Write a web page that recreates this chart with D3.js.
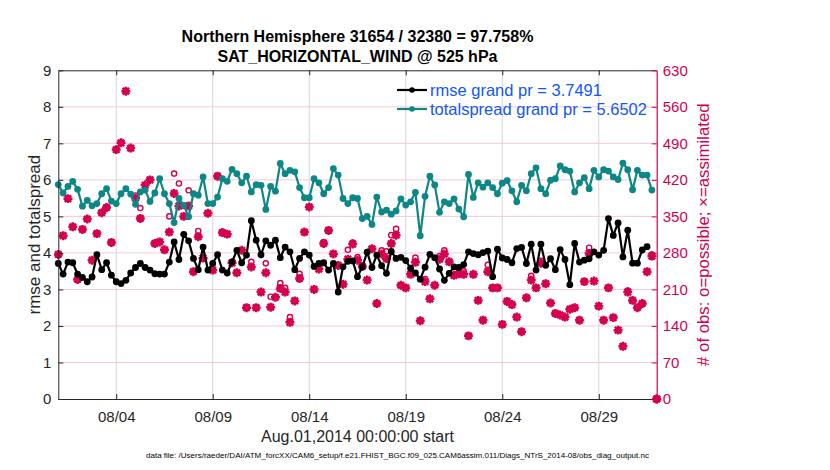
<!DOCTYPE html>
<html>
<head>
<meta charset="utf-8">
<script src="https://cdn.jsdelivr.net/npm/d3@7"></script>
<style>
  body { margin: 0; background: #fff; }
  text { font-family: "Liberation Sans", Arial, Helvetica, sans-serif; }
</style>
</head>
<body>
<div id="chart"></div>
<script>
// bins are 6 hours apart, starting Aug 1 2014 00Z
const startTime = new Date(Date.UTC(2014, 7, 1, 0));
const endTime = new Date(Date.UTC(2014, 8, 1, 0));
const binHours = 6;

const rmse = [
  3.71, 3.42, 3.75, 3.73, 3.42, 3.33, 3.21, 3.34, 3.95, 3.54,
  3.73, 3.39, 3.21, 3.16, 3.25, 3.45, 3.60, 3.71, 3.60, 3.53,
  3.43, 3.42, 3.42, 3.75, 4.30, 3.82, 4.51, 4.33, 3.85, 3.54,
  4.16, 3.53, 3.71, 3.95, 3.53, 3.45, 3.75, 4.07, 3.73, 3.94,
  4.88, 4.35, 3.95, 4.33, 4.21, 4.35, 3.87, 4.16, 4.03, 3.54,
  3.85, 4.03, 3.94, 3.63, 3.71, 3.73, 3.53, 3.71, 2.93, 3.62,
  3.77, 3.78, 3.35, 3.62, 4.02, 3.60, 3.94, 3.65, 3.44, 4.04,
  3.85, 3.88, 3.79, 3.58, 3.45, 3.28, 3.61, 3.96, 3.87, 3.56,
  3.25, 3.44, 3.62, 3.60, 3.68, 4.03, 3.98, 3.95, 4.01, 4.05,
  3.35, 4.10, 3.86, 3.82, 3.73, 4.12, 4.15, 3.71, 4.24, 3.53,
  4.24, 3.66, 3.84, 3.54, 4.09, 3.82, 3.13, 4.26, 3.75, 3.80,
  3.84, 4.03, 3.94, 4.07, 4.94, 4.48, 4.82, 3.89, 4.62, 3.72,
  3.72, 4.08, 4.17
];

const totalspread = [
  5.87, 5.64, 5.82, 5.96, 5.74, 5.28, 5.44, 5.29, 5.35, 5.62,
  5.76, 5.42, 5.35, 5.62, 5.76, 5.61, 5.33, 5.67, 5.72, 5.41,
  5.64, 6.03, 5.62, 5.35, 4.83, 5.49, 5.30, 4.99, 5.62, 5.58,
  6.08, 5.35, 5.35, 5.53, 6.03, 5.96, 6.29, 6.17, 5.92, 6.10,
  5.67, 5.87, 5.85, 5.19, 5.82, 5.69, 6.45, 6.17, 6.26, 6.22,
  5.79, 5.51, 5.51, 6.03, 5.92, 5.62, 5.79, 6.31, 6.13, 5.49,
  5.35, 5.51, 5.49, 4.94, 5.00, 4.78, 5.53, 5.12, 5.17, 5.06,
  5.15, 5.48, 5.31, 5.40, 5.66, 4.47, 5.55, 6.10, 5.86, 5.11,
  5.40, 5.35, 5.48, 5.20, 4.99, 6.15, 5.52, 5.92, 5.80, 5.92,
  5.79, 5.62, 5.91, 5.98, 5.70, 5.40, 5.85, 5.70, 6.17, 6.33,
  5.76, 5.62, 5.99, 6.03, 6.38, 6.28, 6.24, 5.67, 5.92, 6.06,
  5.76, 6.26, 6.08, 6.28, 6.24, 6.08, 6.01, 6.46, 6.28, 5.73,
  6.26, 6.13, 6.13, 5.72
];

const nPossible = [
  277, 313, 384, 330, 229, 325, 345, 266, 317, 357,
  367, 300, 478, 491, 590, 481, 390, 366, 410, 420,
  298, 301, 286, 350, 432, 413, 370, 400, 244, 322,
  270, 356, 247, 427, 319, 316, 261, 242, 285, 175,
  263, 175, 205, 260, 196, 195, 222, 213, 157, 188,
  240, 320, 368, 210, 256, 301, 323, 278, 256, 220,
  286, 300, 272, 254, 228, 288, 183, 285, 283, 314,
  326, 218, 213, 239, 271, 150, 230, 192, 218, 274,
  285, 263, 237, 252, 245, 121, 239, 189, 151, 257,
  213, 213, 143, 187, 181, 157, 129, 194, 236, 213,
  265, 221, 184, 164, 161, 157, 172, 175, 151, 225,
  290, 226, 178, 151, 213, 156, 132, 101, 208, 189,
  175, 183, 244, 277, 0
];

const nAssimilated = [
  277, 313, 384, 330, 229, 325, 345, 266, 317, 357,
  367, 300, 478, 491, 590, 481, 385, 346, 410, 420,
  298, 301, 286, 320, 394, 370, 350, 370, 244, 311,
  270, 356, 247, 427, 319, 316, 261, 242, 285, 175,
  253, 175, 205, 242, 176, 195, 212, 205, 147, 188,
  231, 320, 368, 210, 249, 298, 323, 278, 256, 220,
  268, 297, 266, 254, 228, 288, 183, 278, 269, 298,
  314, 218, 213, 239, 262, 150, 225, 192, 218, 268,
  278, 263, 237, 240, 239, 121, 239, 189, 151, 244,
  213, 213, 143, 187, 181, 157, 129, 194, 228, 213,
  260, 221, 184, 164, 161, 157, 172, 175, 151, 225,
  279, 226, 178, 151, 213, 156, 132, 101, 205, 189,
  175, 183, 244, 274, 0
];

const dateTicks = ["2014-08-04", "2014-08-09", "2014-08-14", "2014-08-19", "2014-08-24", "2014-08-29"];
const leftTicks = [0, 1, 2, 3, 4, 5, 6, 7, 8, 9];
const rightTicks = [0, 70, 140, 210, 280, 350, 420, 490, 560, 630];

const titleLines = ["Northern Hemisphere 31654 / 32380 = 97.758%", "SAT_HORIZONTAL_WIND @ 525 hPa"];
const legendLabels = ["rmse grand pr = 3.7491", "totalspread grand pr = 5.6502"];
const dataFile = "data file: /Users/raeder/DAI/ATM_forcXX/CAM6_setup/f.e21.FHIST_BGC.f09_025.CAM6assim.011/Diags_NTrS_2014-08/obs_diag_output.nc";

const width = 830, height = 470;
const plot = { left: 58.3, right: 656.7, top: 70.3, bottom: 399 };
const axisGray = "#262626";
const obsColor = "#d4004f";
const spreadColor = "#0d8686";
const legendBlue = "#1257f5";

const timeAt = i => d3.utcHour.offset(startTime, i * binHours);
const tickDates = dateTicks.map(d => d3.utcParse("%Y-%m-%d")(d));

const x = d3.scaleUtc().domain([startTime, endTime]).range([plot.left, plot.right]);
const yL = d3.scaleLinear().domain([0, 9]).range([plot.bottom, plot.top]);
const yR = d3.scaleLinear().domain([0, 630]).range([plot.bottom, plot.top]);

const svg = d3.select("#chart").append("svg")
  .attr("width", width)
  .attr("height", height);

svg.append("rect").attr("width", width).attr("height", height).attr("fill", "#fff");

// grid: vertical (x) gray, horizontal (right axis) pink
svg.append("g")
  .selectAll("line")
  .data(tickDates)
  .join("line")
  .attr("x1", d => x(d)).attr("x2", d => x(d))
  .attr("y1", plot.top).attr("y2", plot.bottom)
  .attr("stroke", "#d6d6d6").attr("stroke-width", 1);

svg.append("g")
  .selectAll("line")
  .data(rightTicks.slice(1, -1))
  .join("line")
  .attr("x1", plot.left).attr("x2", plot.right)
  .attr("y1", d => yR(d)).attr("y2", d => yR(d))
  .attr("stroke", "#f4c9d8").attr("stroke-width", 1);

// observation counts: asterisks = assimilated, circles = possible
const asterisk = {
  draw(context, size) {
    const r = Math.sqrt(size) / 2;
    const q = r * 0.72;
    context.moveTo(-r, 0); context.lineTo(r, 0);
    context.moveTo(0, -r); context.lineTo(0, r);
    context.moveTo(-q, -q); context.lineTo(q, q);
    context.moveTo(-q, q); context.lineTo(q, -q);
  }
};
const starPath = d3.symbol().type(asterisk).size(80);

svg.append("g")
  .selectAll("path")
  .data(nAssimilated)
  .join("path")
  .attr("transform", (d, i) => `translate(${x(timeAt(i))},${yR(d)})`)
  .attr("d", starPath)
  .attr("fill", "none")
  .attr("stroke", obsColor)
  .attr("stroke-width", 2.5);

svg.append("g")
  .selectAll("circle")
  .data(nPossible)
  .join("circle")
  .attr("cx", (d, i) => x(timeAt(i)))
  .attr("cy", d => yR(d))
  .attr("r", 2.6)
  .attr("fill", "none")
  .attr("stroke", obsColor)
  .attr("stroke-width", 1.4);

// rmse and spread lines
function drawSeries(values, color) {
  const line = d3.line()
    .x((d, i) => x(timeAt(i)))
    .y(d => yL(d));
  svg.append("path")
    .datum(values)
    .attr("d", line)
    .attr("fill", "none")
    .attr("stroke", color)
    .attr("stroke-width", 2.2)
    .attr("stroke-linejoin", "round");
  svg.append("g")
    .selectAll("circle")
    .data(values)
    .join("circle")
    .attr("cx", (d, i) => x(timeAt(i)))
    .attr("cy", d => yL(d))
    .attr("r", 3.4)
    .attr("fill", color);
}
drawSeries(totalspread, spreadColor);
drawSeries(rmse, "#000");

// axes
const xAxis = d3.axisBottom(x)
  .tickValues(tickDates)
  .tickFormat(d3.utcFormat("%m/%d"))
  .tickSizeInner(-5).tickSizeOuter(0).tickPadding(12);

const gx = svg.append("g")
  .attr("transform", `translate(0,${plot.bottom})`)
  .call(xAxis);
gx.select(".domain").attr("stroke", axisGray);
gx.selectAll(".tick line").attr("stroke", axisGray);
gx.selectAll(".tick text").attr("fill", axisGray).style("font-size", "15px");

const gxTop = svg.append("g")
  .attr("transform", `translate(0,${plot.top})`)
  .call(d3.axisTop(x).tickValues(tickDates).tickFormat("").tickSizeInner(-5).tickSizeOuter(0));
gxTop.select(".domain").attr("stroke", axisGray);
gxTop.selectAll(".tick line").attr("stroke", axisGray);

const gyL = svg.append("g")
  .attr("transform", `translate(${plot.left},0)`)
  .call(d3.axisLeft(yL).tickValues(leftTicks).tickSizeInner(-5).tickSizeOuter(0).tickPadding(7));
gyL.select(".domain").attr("stroke", axisGray);
gyL.selectAll(".tick line").attr("stroke", axisGray);
gyL.selectAll(".tick text").attr("fill", axisGray).style("font-size", "15px");

const gyR = svg.append("g")
  .attr("transform", `translate(${plot.right},0)`)
  .call(d3.axisRight(yR).tickValues(rightTicks).tickSizeInner(-5).tickSizeOuter(0).tickPadding(6));
gyR.select(".domain").attr("stroke", obsColor).attr("stroke-width", 1.2);
gyR.selectAll(".tick line").attr("stroke", obsColor);
gyR.selectAll(".tick text").attr("fill", obsColor).style("font-size", "15px");

// the zero-count bin sits on the corner; redraw it over the axes
const last = nAssimilated.length - 1;
svg.append("path")
  .attr("transform", `translate(${x(timeAt(last))},${yR(nAssimilated[last])})`)
  .attr("d", starPath)
  .attr("fill", "none").attr("stroke", obsColor).attr("stroke-width", 2.5);

// axis labels
const midY = (plot.top + plot.bottom) / 2;
svg.append("text")
  .attr("transform", `translate(34,${midY}) rotate(-90)`)
  .attr("text-anchor", "middle")
  .attr("dominant-baseline", "central")
  .style("font-size", "17px")
  .attr("fill", axisGray)
  .text("rmse and totalspread");

svg.append("text")
  .attr("transform", `translate(703,${midY}) rotate(-90)`)
  .attr("text-anchor", "middle")
  .attr("dominant-baseline", "central")
  .style("font-size", "16.8px")
  .attr("fill", obsColor)
  .text("# of obs: o=possible; \u00d7=assimilated");

svg.append("text")
  .attr("x", (plot.left + plot.right) / 2)
  .attr("y", 442)
  .attr("text-anchor", "middle")
  .style("font-size", "16px")
  .attr("fill", axisGray)
  .text("Aug.01,2014 00:00:00 start");

// title
svg.selectAll("text.title")
  .data(titleLines)
  .join("text")
  .attr("class", "title")
  .attr("x", (plot.left + plot.right) / 2)
  .attr("y", (d, i) => 41.5 + i * 20)
  .attr("text-anchor", "middle")
  .style("font-size", "16px")
  .style("font-weight", "bold")
  .attr("fill", "#000")
  .text(d => d);

// legend
const legend = svg.append("g").attr("transform", "translate(397,90)");
[["#000", 0], [spreadColor, 1]].forEach(([c, i]) => {
  const row = legend.append("g").attr("transform", `translate(0,${i * 19})`);
  row.append("line").attr("x1", 0).attr("x2", 30).attr("stroke", c).attr("stroke-width", 2.2);
  row.append("circle").attr("cx", 15).attr("r", 2.8).attr("fill", c);
  row.append("text")
    .attr("x", 33)
    .attr("dominant-baseline", "central")
    .style("font-size", "16.5px")
    .attr("fill", legendBlue)
    .text(legendLabels[i]);
});

// footer
svg.append("text")
  .attr("x", 146)
  .attr("y", 458)
  .attr("textLength", 503)
  .attr("lengthAdjust", "spacingAndGlyphs")
  .style("font-size", "7px")
  .attr("fill", "#000")
  .text(dataFile);
</script>
</body>
</html>
